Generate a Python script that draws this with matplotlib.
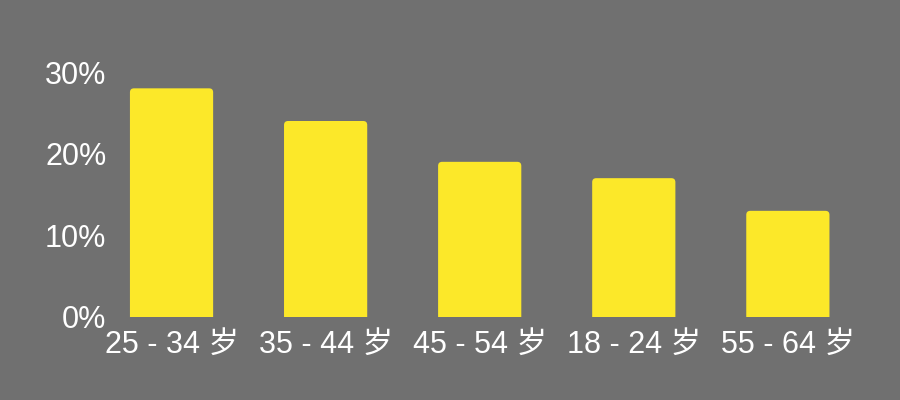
import matplotlib
matplotlib.use("Agg")
import matplotlib.pyplot as plt
from matplotlib.patches import FancyBboxPatch

plt.rcParams['font.family'] = ['Liberation Sans', 'Noto Sans CJK SC', 'DejaVu Sans']

# data
age_groups = ['25 - 34 岁', '35 - 44 岁', '45 - 54 岁', '18 - 24 岁', '55 - 64 岁']
shares = [28, 24, 19, 17, 13]
y_ticks = [0, 10, 20, 30]

bg = '#707070'
bar_color = '#FCE829'

fig = plt.figure(figsize=(9, 4), dpi=100, facecolor=bg)
ax = fig.add_axes([0.105, 0.2075, 0.856, 0.6125], facecolor=bg)

bars = ax.bar(range(len(age_groups)), shares, width=0.54, color=bar_color)

ax.set_xlim(-0.5, len(age_groups) - 0.5)
ax.set_ylim(0, 30)

# swap plain bars for ones with slightly rounded tops
x_per_px = 5 / 770
y_per_px = 30 / 245
for b in bars:
    b.set_visible(False)
    x, w, h = b.get_x(), b.get_width(), b.get_height()
    ax.add_patch(FancyBboxPatch((x, -1), w, h + 1,
                                boxstyle=f"round,pad=0,rounding_size={4 * x_per_px}",
                                mutation_aspect=y_per_px / x_per_px,
                                facecolor=bar_color, edgecolor='none'))

ax.set_xticks(range(len(age_groups)))
ax.set_xticklabels(age_groups)
ax.set_yticks(y_ticks)
ax.set_yticklabels([f'{v}%' for v in y_ticks])

ax.tick_params(axis='y', length=0, pad=-8.5, labelsize=22, labelcolor='white')
ax.tick_params(axis='x', length=0, pad=9, labelsize=22, labelcolor='white')
for spine in ax.spines.values():
    spine.set_visible(False)

fig.savefig('out.png', dpi=100, facecolor=bg)
